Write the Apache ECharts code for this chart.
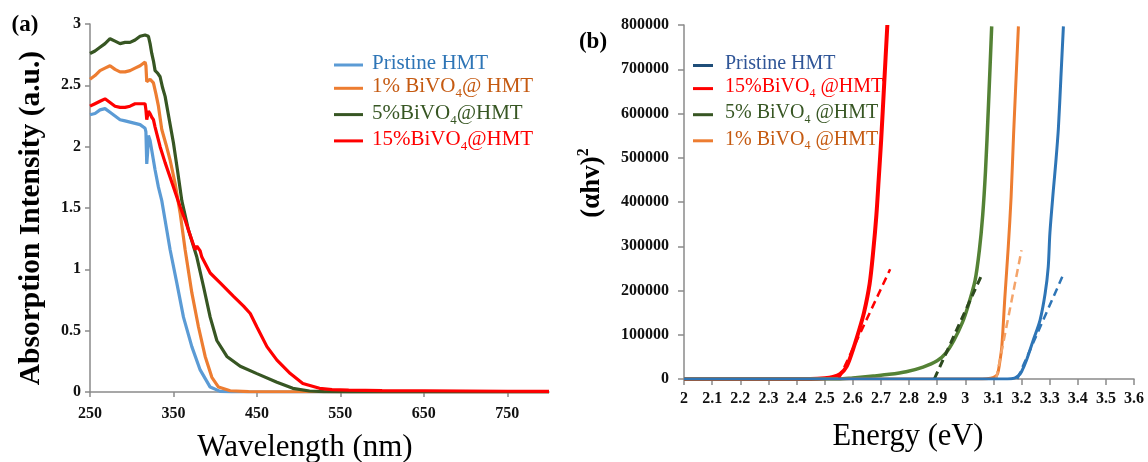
<!DOCTYPE html>
<html><head><meta charset="utf-8">
<script src="https://cdn.jsdelivr.net/npm/echarts@6/dist/echarts.min.js"></script>
<style>html,body{margin:0;padding:0;background:#fff}#c{width:1148px;height:462px}</style>
</head><body><div id="c"></div>
<script>
// ---------- panel (a): absorption spectra ----------
const absNames = ['Pristine HMT', '1% BiVO4@ HMT', '5%BiVO4@HMT', '15%BiVO4@HMT'];
const wlTicks = [250, 350, 450, 550, 650, 750];
const absPristine = [[250,2.26],[256,2.27],[262,2.30],[268,2.31],[274,2.28],[280,2.25],[286,2.22],[292,2.21],[298,2.20],[304,2.19],[310,2.18],[316,2.15],[317,2.12],[318,1.86],[319,1.95],[320,2.09],[322,2.05],[324,1.97],[328,1.81],[332,1.67],[336,1.56],[340,1.40],[346,1.16],[354,0.89],[362,0.61],[372,0.37],[382,0.18],[394,0.04],[406,0.005],[420,0],[800,0]];
const abs1 = [[250,2.55],[256,2.58],[262,2.62],[268,2.64],[274,2.66],[280,2.63],[286,2.61],[292,2.61],[298,2.62],[304,2.64],[310,2.66],[316,2.69],[317,2.66],[318,2.53],[322,2.55],[326,2.52],[329,2.43],[332,2.33],[336,2.14],[341,2.02],[346,1.89],[352,1.70],[358,1.46],[364,1.16],[372,0.81],[380,0.53],[388,0.29],[396,0.12],[404,0.04],[418,0.01],[440,0.003],[800,0]];
const abs5 = [[250,2.76],[256,2.78],[262,2.81],[268,2.84],[274,2.88],[280,2.86],[286,2.84],[292,2.85],[298,2.85],[304,2.87],[310,2.90],[316,2.91],[320,2.90],[322,2.84],[324,2.76],[326,2.70],[328,2.62],[331,2.60],[334,2.57],[337,2.48],[340,2.41],[345,2.22],[350,2.03],[355,1.80],[360,1.56],[368,1.32],[378,1.10],[386,0.86],[394,0.61],[402,0.42],[414,0.29],[430,0.21],[450,0.15],[474,0.08],[493,0.03],[513,0.008],[530,0.003],[560,0],[800,0]];
const abs15 = [[250,2.33],[256,2.35],[262,2.37],[268,2.39],[274,2.36],[280,2.33],[286,2.32],[292,2.32],[298,2.33],[304,2.35],[310,2.35],[316,2.35],[317,2.30],[318,2.22],[320,2.29],[322,2.27],[324,2.24],[326,2.22],[328,2.16],[334,2.00],[340,1.87],[346,1.75],[352,1.63],[358,1.51],[364,1.40],[372,1.24],[376,1.16],[378,1.19],[380,1.18],[382,1.15],[384,1.10],[394,0.97],[406,0.89],[422,0.78],[434,0.70],[442,0.64],[450,0.53],[462,0.37],[474,0.26],[490,0.15],[505,0.07],[525,0.03],[540,0.02],[560,0.015],[600,0.012],[650,0.01],[700,0.008],[750,0.006],[800,0.005]];

// ---------- panel (b): Tauc plots ----------
const taucNames = ['Pristine HMT', '15%BiVO4 @HMT', '5% BiVO4 @HMT', '1% BiVO4 @HMT'];
const taucPristine = [[2,0],[3.15,0],[3.175,2000],[3.19,8000],[3.2,16500],[3.218,43000],[3.242,88000],[3.266,133000],[3.284,193000],[3.295,253000],[3.301,330000],[3.313,425000],[3.322,490000],[3.331,565000],[3.34,680000],[3.349,797000]];
const tauc15 = [[2,0],[2.45,0],[2.5,1500],[2.53,4500],[2.555,11000],[2.578,28000],[2.60,65000],[2.62,105000],[2.64,150000],[2.66,215000],[2.673,290000],[2.684,370000],[2.692,449000],[2.701,540000],[2.712,670000],[2.723,800000]];
const tauc5 = [[2,0],[2.55,0],[2.6,2500],[2.673,6800],[2.73,10500],[2.79,16500],[2.85,27000],[2.90,41000],[2.93,58000],[2.96,88000],[2.99,128000],[3.01,165000],[3.035,223000],[3.05,290000],[3.062,370000],[3.072,470000],[3.082,610000],[3.094,797000]];
const tauc1 = [[2,0],[3.06,0],[3.09,1500],[3.105,5000],[3.115,12000],[3.122,35000],[3.13,73000],[3.141,186000],[3.153,299000],[3.163,411000],[3.172,555000],[3.189,797000]];
const fitPristine = [[3.185,0],[3.345,231000]];
const fit15 = [[2.55,0],[2.733,248000]];
const fit5 = [[2.89,0],[3.062,240000]];
const fit1 = [[3.11,0],[3.20,291000]];

const FF = 'Liberation Serif';
const axisGray = '#8a8a8a';

function legendItem(name, color, iconColor, fs, sfs, lh) {
  return {
    name: name,
    itemStyle: { color: iconColor },
    textStyle: {
      color: color,
      rich: {
        m: { color: color, fontFamily: FF, fontSize: fs, verticalAlign: 'top', lineHeight: lh },
        s: { color: color, fontFamily: FF, fontSize: sfs, verticalAlign: 'bottom', lineHeight: lh }
      }
    }
  };
}
function legendFmt(name) {
  if (name.indexOf('BiVO4') < 0) return '{m|' + name + '}';
  const parts = name.split('BiVO4');
  return '{m|' + parts[0] + 'BiVO}{s|4}{m|' + parts[1] + '}';
}

const tickLabel = { fontFamily: FF, fontWeight: 'bold', fontSize: 16, color: '#111' };

const chart = echarts.init(document.getElementById('c'), null, { renderer: 'canvas' });
const option = {
  backgroundColor: '#fff',
  animation: false,
  grid: [
    { left: 90, top: 24, width: 459, height: 368 },
    { left: 684, top: 25, width: 450, height: 354 }
  ],
  xAxis: [
    { type: 'value', gridIndex: 0, min: 250, max: 800,
      axisLine: { show: true, lineStyle: { color: axisGray, width: 1.5 } },
      axisTick: { show: true, length: 5, customValues: wlTicks, lineStyle: { color: axisGray, width: 1.5 } },
      axisLabel: Object.assign({ margin: 14, customValues: wlTicks }, tickLabel),
      splitLine: { show: false } },
    { type: 'value', gridIndex: 1, min: 2, max: 3.6, interval: 0.1,
      axisLine: { show: true, lineStyle: { color: axisGray, width: 1.5 } },
      axisTick: { show: true, length: 6, lineStyle: { color: axisGray, width: 1.5 } },
      axisLabel: Object.assign({ margin: 12, showMinLabel: true, showMaxLabel: true }, tickLabel),
      splitLine: { show: false } }
  ],
  yAxis: [
    { type: 'value', gridIndex: 0, min: 0, max: 3, interval: 0.5,
      axisLine: { show: true, lineStyle: { color: axisGray, width: 1.5 } },
      axisTick: { show: true, length: 5, lineStyle: { color: axisGray, width: 1.5 } },
      axisLabel: Object.assign({ margin: 9 }, tickLabel),
      splitLine: { show: false } },
    { type: 'value', gridIndex: 1, min: 0, max: 800000, interval: 100000,
      axisLine: { show: true, lineStyle: { color: axisGray, width: 1.5 } },
      axisTick: { show: true, length: 6, lineStyle: { color: axisGray, width: 1.5 } },
      axisLabel: Object.assign({ margin: 15, formatter: v => String(v) }, tickLabel),
      splitLine: { show: false } }
  ],
  legend: [
    { orient: 'vertical', left: 334, top: 53, padding: 0, itemWidth: 29, itemHeight: 3, icon: 'rect', itemGap: 2.3,
      formatter: legendFmt, textStyle: { padding: [0, 0, 0, 4] },
      data: [
        legendItem(absNames[0], '#2e75b6', '#5b9bd5', 21, 13, 24),
        legendItem(absNames[1], '#c55a11', '#ed7d31', 21, 13, 24),
        legendItem(absNames[2], '#375623', '#375623', 21, 13, 24),
        legendItem(absNames[3], '#ff0000', '#ff0000', 21, 13, 24)
      ] },
    { orient: 'vertical', left: 693, top: 54, padding: 0, itemWidth: 20, itemHeight: 3, icon: 'rect', itemGap: 3.1,
      formatter: legendFmt, textStyle: { padding: [0, 0, 0, 7] },
      data: [
        legendItem(taucNames[0], '#2f5597', '#1f4e79', 20, 12, 23),
        legendItem(taucNames[1], '#ff0000', '#ff0000', 20, 12, 23),
        legendItem(taucNames[2], '#375623', '#375623', 20, 12, 23),
        legendItem(taucNames[3], '#c55a11', '#ed7d31', 20, 12, 23)
      ] }
  ],
  graphic: [
    { type: 'text', x: 25, y: 25, style: { text: '(a)', font: 'bold 23px "Liberation Serif"', fill: '#000', align: 'center', verticalAlign: 'middle' } },
    { type: 'text', x: 593, y: 42, style: { text: '(b)', font: 'bold 23px "Liberation Serif"', fill: '#000', align: 'center', verticalAlign: 'middle' } },
    { type: 'text', x: 31, y: 218, rotation: Math.PI / 2, style: { text: 'Absorption Intensity (a.u.)', font: 'bold 29.5px "Liberation Serif"', fill: '#000', align: 'center', verticalAlign: 'middle' } },
    { type: 'text', x: 305, y: 448, style: { text: 'Wavelength (nm)', font: '31px "Liberation Serif"', fill: '#000', align: 'center', verticalAlign: 'middle' } },
    { type: 'text', x: 908, y: 437, style: { text: 'Energy (eV)', font: '30.5px "Liberation Serif"', fill: '#000', align: 'center', verticalAlign: 'middle' } },
    { type: 'text', x: 591, y: 183, rotation: Math.PI / 2,
      style: { text: '{m|(αhv)}{p|2}', fill: '#000', align: 'center', verticalAlign: 'middle',
        rich: { m: { fontFamily: FF, fontWeight: 'bold', fontSize: 27, verticalAlign: 'bottom', lineHeight: 30, fill: '#000' },
                p: { fontFamily: FF, fontWeight: 'bold', fontSize: 16, verticalAlign: 'top', lineHeight: 30, fill: '#000' } } } }
  ],
  series: [
    { name: absNames[0], type: 'line', xAxisIndex: 0, yAxisIndex: 0, data: absPristine, showSymbol: false, lineStyle: { color: '#5b9bd5', width: 3.2 }, itemStyle: { color: '#5b9bd5' } },
    { name: absNames[1], type: 'line', xAxisIndex: 0, yAxisIndex: 0, data: abs1, showSymbol: false, lineStyle: { color: '#ed7d31', width: 3.2 }, itemStyle: { color: '#ed7d31' } },
    { name: absNames[2], type: 'line', xAxisIndex: 0, yAxisIndex: 0, data: abs5, showSymbol: false, lineStyle: { color: '#375623', width: 3.2 }, itemStyle: { color: '#375623' } },
    { name: absNames[3], type: 'line', xAxisIndex: 0, yAxisIndex: 0, data: abs15, showSymbol: false, lineStyle: { color: '#ff0000', width: 3.2 }, itemStyle: { color: '#ff0000' } },

    { name: taucNames[1], type: 'line', xAxisIndex: 1, yAxisIndex: 1, data: tauc15, showSymbol: false, smooth: 0.3, lineStyle: { color: '#ff0000', width: 4, join: 'round' }, itemStyle: { color: '#ff0000' } },
    { name: taucNames[2], type: 'line', xAxisIndex: 1, yAxisIndex: 1, data: tauc5, showSymbol: false, smooth: 0.3, lineStyle: { color: '#548235', width: 3.5, join: 'round' }, itemStyle: { color: '#548235' } },
    { name: taucNames[3], type: 'line', xAxisIndex: 1, yAxisIndex: 1, data: tauc1, showSymbol: false, smooth: 0.3, lineStyle: { color: '#ed7d31', width: 3, join: 'round' }, itemStyle: { color: '#ed7d31' } },
    { name: 'fit15', type: 'line', xAxisIndex: 1, yAxisIndex: 1, data: fit15, showSymbol: false, lineStyle: { color: '#ff0000', width: 2.5, type: [8, 5] } },
    { name: 'fit5', type: 'line', xAxisIndex: 1, yAxisIndex: 1, data: fit5, showSymbol: false, lineStyle: { color: '#2d4a1e', width: 3, type: [8, 5] } },
    { name: 'fit1', type: 'line', xAxisIndex: 1, yAxisIndex: 1, data: fit1, showSymbol: false, lineStyle: { color: '#f4a46a', width: 2.5, type: [8, 5] } },
    { name: taucNames[0], type: 'line', xAxisIndex: 1, yAxisIndex: 1, data: taucPristine, showSymbol: false, smooth: 0.3, lineStyle: { color: '#2e75b6', width: 3, join: 'round' }, itemStyle: { color: '#2e75b6' } },
    { name: 'fitP', type: 'line', xAxisIndex: 1, yAxisIndex: 1, data: fitPristine, showSymbol: false, lineStyle: { color: '#2e75b6', width: 2.5, type: [8, 5] } }
  ]
};
chart.setOption(option);
</script>
</body></html>
